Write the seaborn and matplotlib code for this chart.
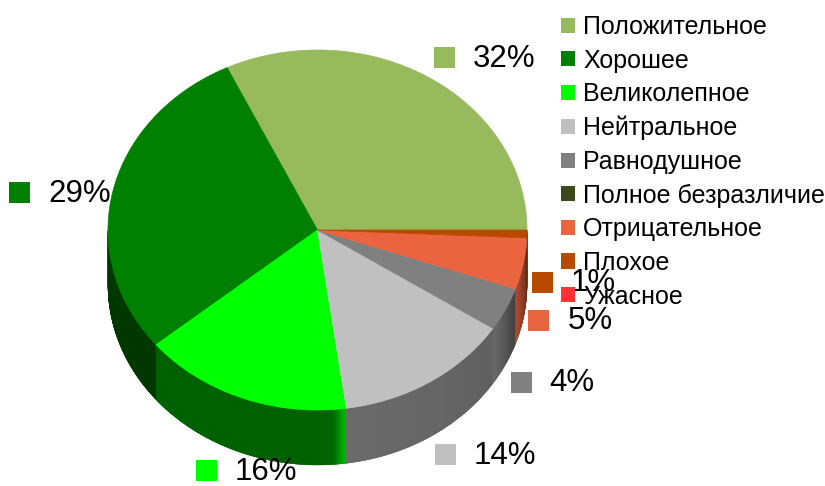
import numpy as np
import matplotlib
matplotlib.use("Agg")
import matplotlib.pyplot as plt
import seaborn as sns
from matplotlib.patches import Polygon, Rectangle, Patch
from matplotlib.collections import PolyCollection
from matplotlib.colors import to_rgb

categories = ["Положительное", "Хорошее", "Великолепное", "Нейтральное", "Равнодушное",
              "Полное безразличие", "Отрицательное", "Плохое", "Ужасное"]
values = [32.1, 28.9, 16.2, 13.6, 3.9, 0.0, 4.6, 0.7, 0.0]
colors = ["#97BA5D", "#008000", "#00FF00", "#C0C0C0", "#808080",
          "#3A4A18", "#EA6440", "#B84A00", "#FF3333"]
# darkening of the side wall of each slice (start, end of its arc)
side_dark = [(0.4, 0.4), (0.44, 0.44), (0.38, 0.38), (0.56, 0.5), (0.85, 0.5),
             (0.4, 0.4), (0.75, 0.45), (0.6, 0.5), (0.5, 0.5)]

sns.set_theme(style="white")
plt.rcParams['font.family'] = ['Liberation Sans', 'DejaVu Sans']

W_PX, H_PX = 825, 486
fig = plt.figure(figsize=(W_PX / 100, H_PX / 100), dpi=100)
ax = fig.add_axes([0, 0, 1, 1])
ax.set_xlim(0, W_PX)
ax.set_ylim(H_PX, 0)
ax.axis('off')

CX, CY, RX, RY, DEPTH = 317.5, 230.0, 209.5, 180.0, 55.0

fractions = np.array(values, dtype=float) / sum(values)
edges = np.concatenate([[0.0], np.cumsum(fractions) * 360.0])


def pt(t):
    r = np.radians(t)
    return CX + RX * np.cos(r), CY - RY * np.sin(r)


def side_shade(i, t, a, b):
    u = (t - a) / max(b - a, 1e-6)
    s0, s1 = side_dark[i]
    s = s0 + (s1 - s0) * u
    if i == 2:  # highlight near the front edge of the bright slice
        s *= 1 + 0.9 * np.exp(-((b - t) / 2.5) ** 2)
    return s


# side walls (front half)
polys, fcs = [], []
for i, v in enumerate(values):
    t0, t1 = edges[i], edges[i + 1]
    a, b = max(t0, 180.0), min(t1, 360.0)
    if b <= a or v == 0:
        continue
    base = np.array(to_rgb(colors[i]))
    ts = np.linspace(a, b, max(2, int((b - a) / 0.4) + 1))
    top = [pt(t) for t in ts]
    under = top + [(x, y + DEPTH) for x, y in top[::-1]]
    mean_sh = np.mean([side_shade(i, t, a, b) for t in ts])
    ax.add_patch(Polygon(under, closed=True, facecolor=tuple(np.clip(base * mean_sh, 0, 1)),
                         edgecolor="none", zorder=1))
    for j in range(len(ts) - 1):
        x0, y0 = top[j]
        x1, y1 = top[j + 1]
        polys.append([(x0, y0), (x1, y1), (x1, y1 + DEPTH), (x0, y0 + DEPTH)])
        sh = side_shade(i, (ts[j] + ts[j + 1]) / 2, a, b)
        fcs.append(tuple(np.clip(base * sh, 0, 1)))
pc = PolyCollection(polys, facecolors=fcs, edgecolors=fcs, linewidths=0.3, zorder=1.5)
ax.add_collection(pc)

# top face
for i, v in enumerate(values):
    if v == 0:
        continue
    t0, t1 = edges[i], edges[i + 1]
    ts = np.linspace(t0, t1, max(3, int((t1 - t0) * 2) + 2))
    pts = [(CX, CY)] + [pt(t) for t in ts]
    ax.add_patch(Polygon(pts, closed=True, facecolor=colors[i], edgecolor=colors[i],
                         linewidth=0.5, zorder=2))

# data labels
fig.canvas.draw()
renderer = fig.canvas.get_renderer()
SQ, GAP = 21.0, 18.0
prev_right_y = None
for i, v in enumerate(values):
    if v == 0:
        continue
    t0, t1 = edges[i], edges[i + 1]
    mid = (t0 + t1) / 2
    c, s = np.cos(np.radians(mid)), np.sin(np.radians(mid))
    axp, ayp = pt(mid)
    if s < 0:
        ayp += DEPTH
    txt = ax.text(0, 0, f"{round(fractions[i] * 100)}%", fontsize=22.5, color="black",
                  ha="left", va="center", zorder=5)
    w = txt.get_window_extent(renderer).width
    W = SQ + GAP + w
    if c > 0.1:
        L = axp + 5
    elif c < -0.5:
        L = axp - 2 - W
    else:
        L = axp - W * 0.45
    if s > 0.3:
        yc = ayp - 20
    elif s < -0.3:
        yc = ayp + 18
    else:
        yc = ayp + 1.5
    if s < 0 and c > 0:
        if prev_right_y is not None and mid > 300:
            yc = min(yc, prev_right_y - 38)
        prev_right_y = yc
    txt.set_position((L + SQ + GAP, yc + 1))
    ax.add_patch(Rectangle((L, yc - SQ / 2), SQ, SQ, facecolor=colors[i],
                           edgecolor="none", zorder=5))

# legend
handles = [Patch(facecolor=col, edgecolor="none") for col in colors]
fig.legend(handles, categories, loc="upper left",
           bbox_to_anchor=(561 / W_PX, 1 - 15 / H_PX), frameon=False,
           fontsize=18, handlelength=0.56, handleheight=0.56, handletextpad=0.32,
           labelspacing=0.385, borderaxespad=0, borderpad=0, labelcolor="black")

fig.savefig("out.png", dpi=100)
